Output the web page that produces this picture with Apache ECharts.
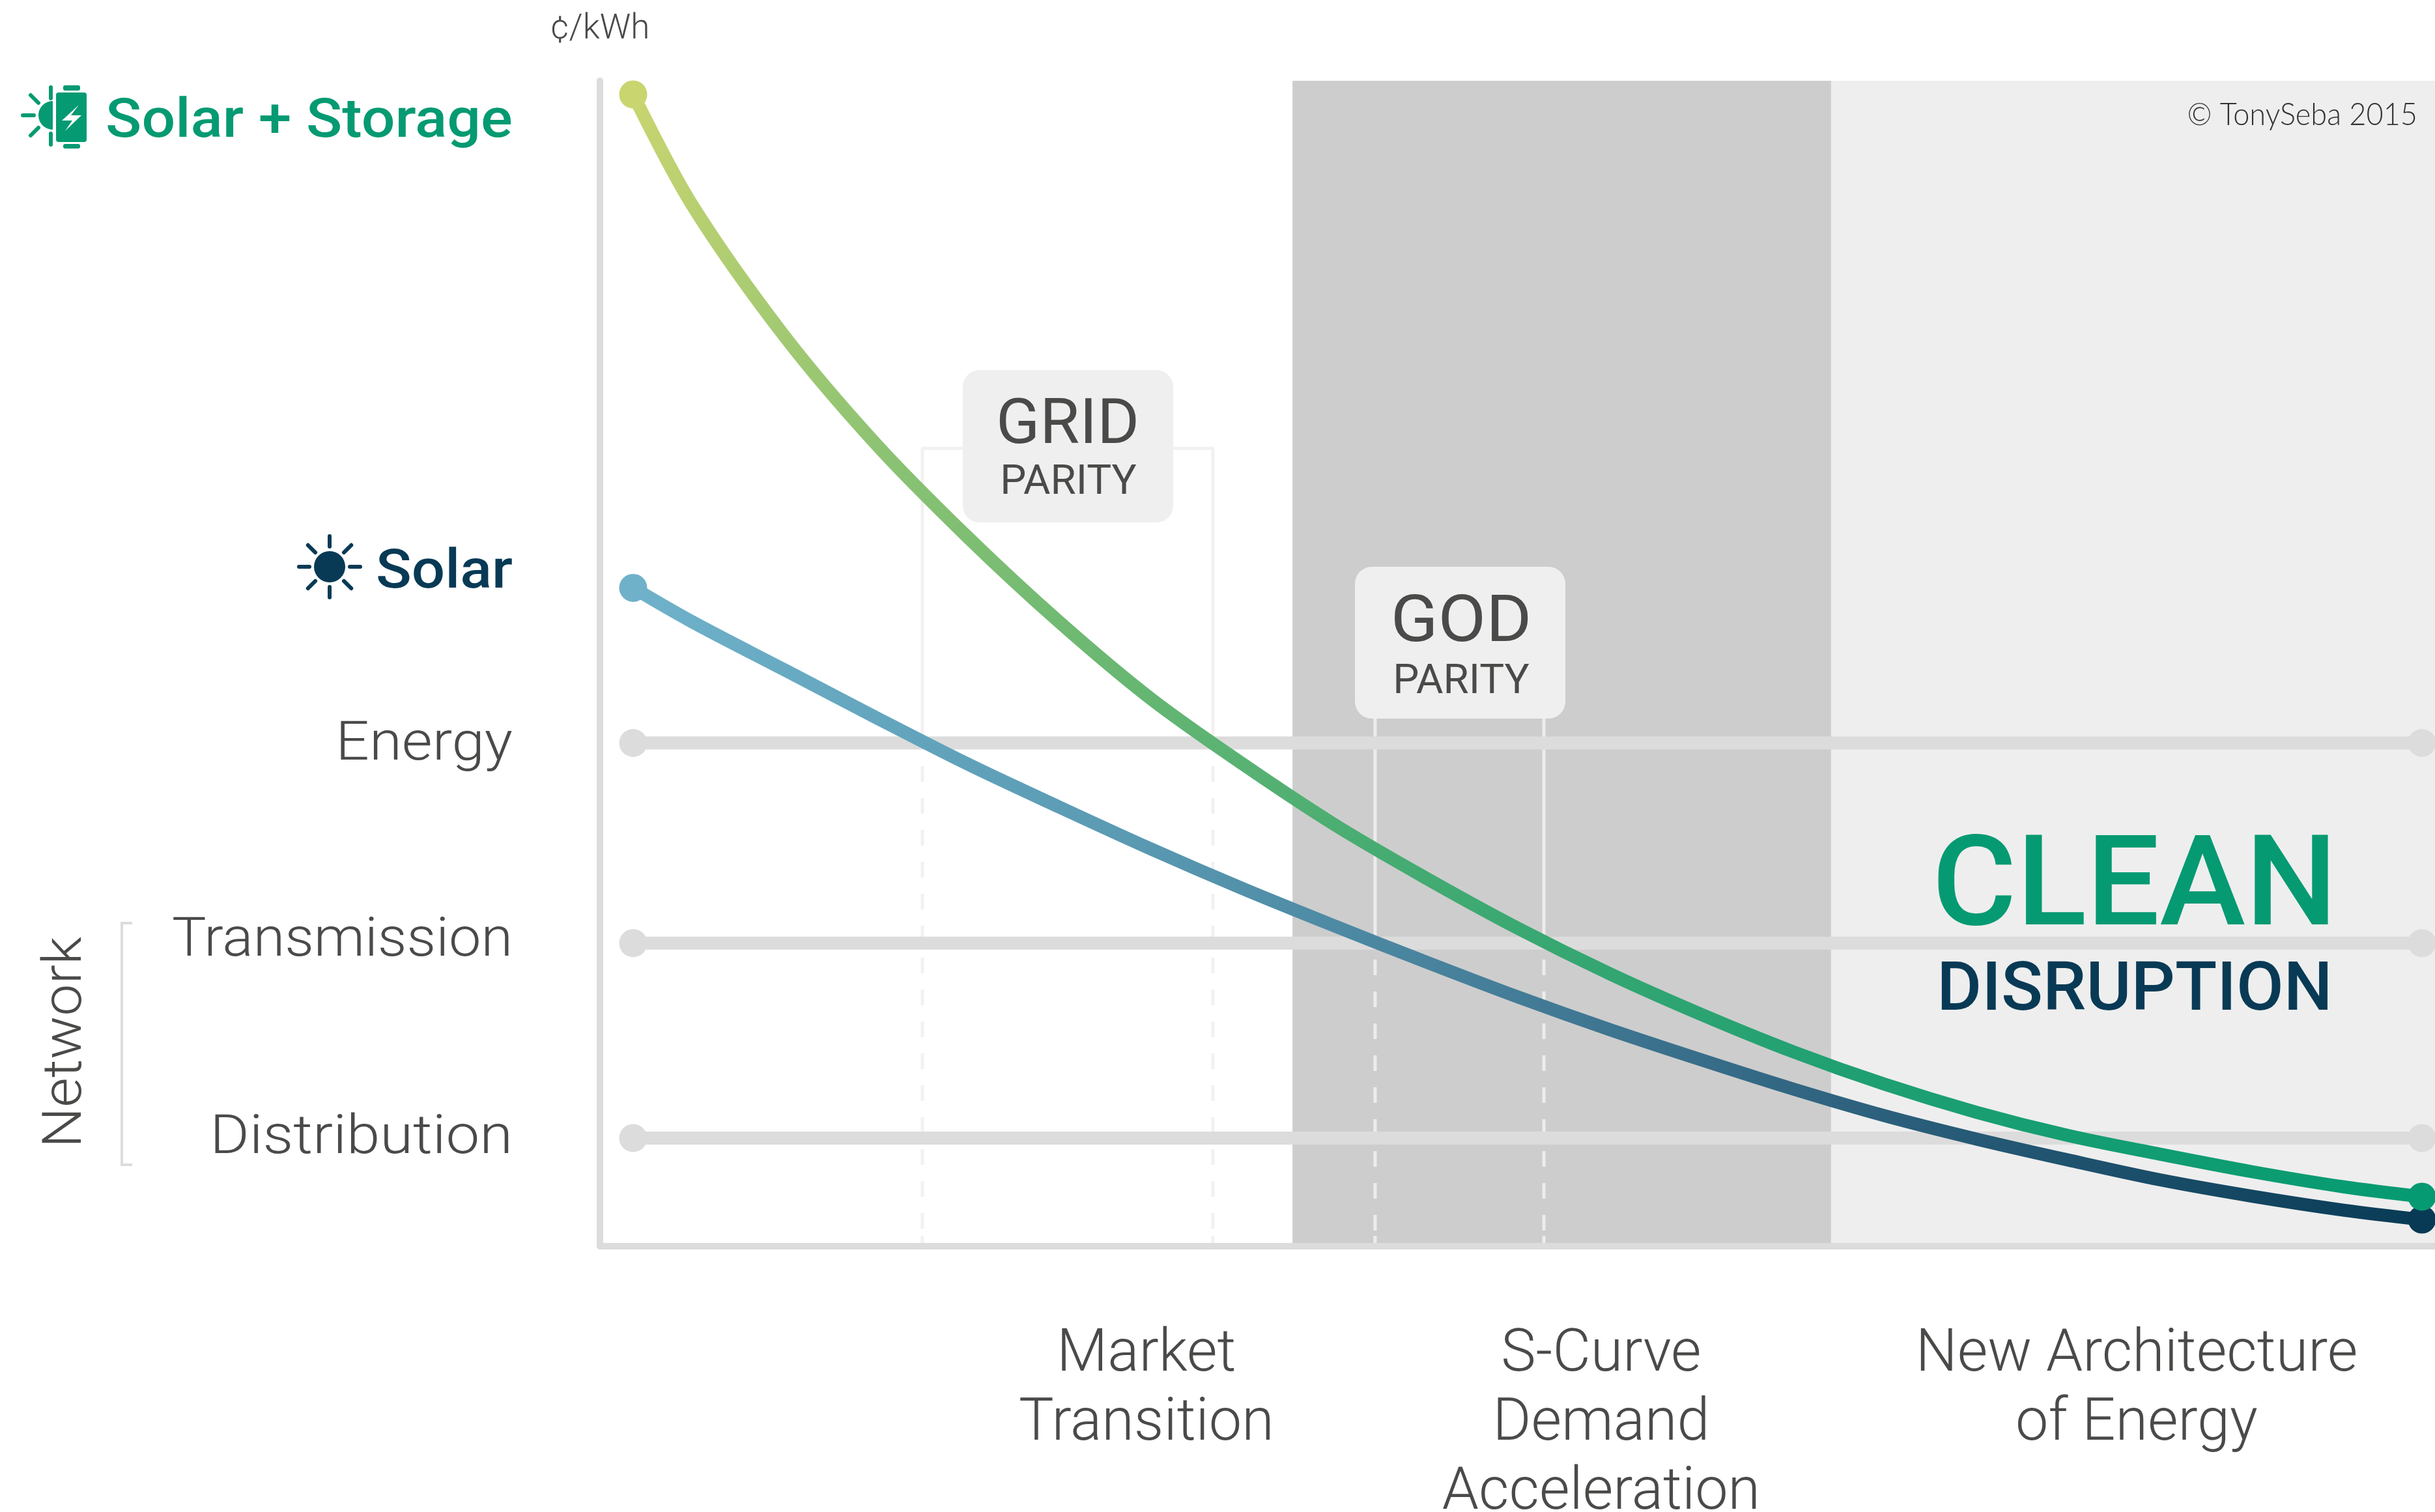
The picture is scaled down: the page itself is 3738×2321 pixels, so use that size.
<!DOCTYPE html>
<html>
<head>
<meta charset="utf-8">
<title>Clean Disruption</title>
<script src="https://cdn.jsdelivr.net/npm/echarts@6/dist/echarts.min.js"></script>
<style>
html, body { margin: 0; padding: 0; background: #fff; }
#chart { width: 3738px; height: 2321px; }
</style>
</head>
<body>
<div id="chart"></div>
<script>
// values, x = time (0-100), y = cost (0-100)
var curveX = [1.81, 5, 10, 15, 20, 25, 30, 35, 40, 45, 50, 55, 60, 65, 70, 75, 80, 85, 90, 95, 99.29];
var storageCost = [98.83, 89.4, 78.2, 68.9, 60.9, 53.6, 47.0, 41.4, 36.2, 31.6, 27.3, 23.4, 19.9, 16.7, 13.9, 11.5, 9.5, 7.9, 6.4, 5.1, 4.25];
var solarCost = [56.49, 53.6, 49.5, 45.4, 41.4, 37.7, 34.1, 30.7, 27.5, 24.4, 21.4, 18.6, 16.0, 13.5, 11.2, 9.2, 7.4, 5.7, 4.3, 3.1, 2.29];
var levelNames = ['Energy', 'Transmission', 'Distribution'];
var levelValues = [43.18, 26.01, 9.28];
var levelStart = 1.81, levelEnd = 99.29;
var bandEdges = [37.74, 67.09, 100];
var gridParityX = [17.57, 33.4], gridParityTop = 68.46, gridDashFrom = 41.2;
var godParityX = [42.24, 51.44], godParityTop = 45.3, godDashFrom = 24.6;
var phaseValues = [29.78, 54.56, 83.74];
var phaseLabels = ['Market\nTransition', 'S-Curve\nDemand\nAcceleration', 'New Architecture\nof Energy'];

var INK = '#4a4a49', GREEN = '#059a72', NAVY = '#083a55', RULE = '#dcdcdc';
var chart = echarts.init(document.getElementById('chart'));

function txt(text, x, y, size, color, opt) {
    opt = opt || {};
    return {
        type: 'text', x: opt.rot ? x + size * 0.11 : x, y: opt.rot ? y : y + size * 0.11, z: 100,
        scaleX: opt.sx || 1,
        rotation: opt.rot || 0,
        style: {
            text: text, fill: color,
            fontSize: size, fontFamily: opt.font || 'Roboto', fontWeight: opt.weight || 300,
            align: opt.align || 'right', verticalAlign: 'middle'
        }
    };
}
function ray(x1, y1, x2, y2, color, w) {
    return {
        type: 'line', z: 100,
        shape: { x1: x1, y1: y1, x2: x2, y2: y2 },
        style: { stroke: color, lineWidth: w, lineCap: 'round' }
    };
}
function sunIcon(cx, cy) {
    var out = [{ type: 'circle', z: 100, shape: { cx: cx, cy: cy, r: 24 }, style: { fill: NAVY } }];
    for (var i = 0; i < 8; i++) {
        var a = i * Math.PI / 4;
        out.push(ray(cx + 31 * Math.cos(a), cy + 31 * Math.sin(a), cx + 47 * Math.cos(a), cy + 47 * Math.sin(a), NAVY, 6));
    }
    return out;
}
function storageIcon() {
    return [
        { type: 'sector', z: 100, shape: { cx: 81, cy: 177, r: 22, startAngle: Math.PI / 2, endAngle: Math.PI * 1.5 }, style: { fill: GREEN } },
        ray(35, 177, 52, 177, GREEN, 6), ray(78, 134, 78, 151, GREEN, 6), ray(78, 205, 78, 222, GREEN, 6),
        ray(47, 146, 59, 158, GREEN, 6), ray(47, 208, 59, 196, GREEN, 6),
        { type: 'rect', z: 100, shape: { x: 86, y: 142, width: 47, height: 76, r: 4 }, style: { fill: GREEN } },
        { type: 'rect', z: 100, shape: { x: 97, y: 131, width: 26, height: 8, r: 3 }, style: { fill: GREEN } },
        { type: 'rect', z: 100, shape: { x: 97, y: 221, width: 26, height: 7, r: 3 }, style: { fill: GREEN } },
        { type: 'polygon', z: 100, shape: { points: [[121, 161], [95, 185], [111, 185], [100, 201], [125, 177], [109, 177]] }, style: { fill: '#fff' } }
    ];
}
function badge(x, y, w, h) {
    return { type: 'rect', z: 99, shape: { x: x, y: y, width: w, height: h, r: 26 }, style: { fill: '#efefef' } };
}

var graphics = [].concat(
    storageIcon(),
    sunIcon(506, 870),
    [
        txt('Solar + Storage', 787, 180, 83, GREEN, { weight: 500, sx: 1.1 }),
        txt('Solar', 787, 872, 83, NAVY, { weight: 500, sx: 1.09 }),
        txt(levelNames[0], 787, 1136, 84, INK, { sx: 1.08 }),
        txt(levelNames[1], 787, 1437, 84, INK, { sx: 1.05 }),
        txt(levelNames[2], 787, 1740, 84, INK, { sx: 1.1 }),
        txt('Network', 94, 1600, 84, INK, { align: 'center', rot: Math.PI / 2, sx: 1.046 }),
        { type: 'polyline', z: 100, shape: { points: [[203, 1417], [187, 1417], [187, 1788], [203, 1788]] }, style: { stroke: RULE, lineWidth: 4, fill: null } },
        badge(1478, 568, 323, 234),
        txt('GRID', 1639, 645, 97, INK, { align: 'center', weight: 400, sx: 1.02 }),
        txt('PARITY', 1640, 735, 63, INK, { align: 'center', weight: 400, sx: 1.01 }),
        badge(2080, 870, 323, 233),
        txt('GOD', 2243, 948, 100, INK, { align: 'center', weight: 400, sx: 1.07 }),
        txt('PARITY', 2243, 1041, 63, INK, { align: 'center', weight: 400, sx: 1.01 }),
        txt('CLEAN', 3277, 1350, 193, GREEN, { align: 'center', weight: 500, sx: 1.03 }),
        txt('DISRUPTION', 3277, 1513, 103, NAVY, { align: 'center', weight: 500, sx: 1.025 }),
        txt('© TonySeba 2015', 3711, 171, 48, '#333', { font: 'Lato', weight: 300, sx: 0.94 })
    ]
);

var series = [];
// shaded phases
series.push({
    type: 'line', data: [], z: 1, silent: true,
    markArea: {
        silent: true,
        data: [
            [{ xAxis: bandEdges[0], yAxis: 0, itemStyle: { color: '#cdcdcd', opacity: 1 } }, { xAxis: bandEdges[1], yAxis: 100 }],
            [{ xAxis: bandEdges[1], yAxis: 0, itemStyle: { color: '#eeeeee', opacity: 1 } }, { xAxis: bandEdges[2], yAxis: 100 }]
        ]
    }
});
// parity brackets, solid above and dashed below the level lines
function guide(points, color, dashed) {
    return {
        type: 'line', z: 2, silent: true, symbol: 'none', data: points,
        lineStyle: { color: color, width: 5, type: dashed ? [24, 25] : 'solid' }
    };
}
series.push(guide([[gridParityX[0], levelValues[0]], [gridParityX[0], gridParityTop], [gridParityX[1], gridParityTop], [gridParityX[1], levelValues[0]]], '#f1f1f1'));
[gridParityX[0], gridParityX[1]].forEach(function (x) {
    series.push(guide([[x, gridDashFrom], [x, 0]], '#f1f1f1', true));
    series.push(guide([[x, 0.9], [x, 0]], '#f1f1f1'));
});
[godParityX[0], godParityX[1]].forEach(function (x) {
    series.push(guide([[x, godParityTop], [x, levelValues[1]]], '#ececec'));
    series.push(guide([[x, godDashFrom], [x, 0]], '#ececec', true));
    series.push(guide([[x, 0.9], [x, 0]], '#ececec'));
});
// cost levels
levelNames.forEach(function (name, i) {
    series.push({
        name: name, type: 'line', z: 3, silent: true, clip: false,
        symbol: 'circle', symbolSize: 43, showAllSymbol: true,
        data: [[levelStart, levelValues[i]], [levelEnd, levelValues[i]]],
        itemStyle: { color: RULE },
        lineStyle: { color: RULE, width: 20 }
    });
});
// cost curves with end dots
function curve(name, values, stops, startColor, endColor) {
    var data = curveX.map(function (x, i) { return [x, values[i]]; });
    series.push({
        name: name, type: 'line', z: 6, clip: false, smooth: 0.33, symbol: 'none', data: data,
        lineStyle: {
            width: 20,
            color: {
                type: 'linear', x: 0, y: 0, x2: 1, y2: 1,
                colorStops: stops.map(function (s) { return { offset: s[0], color: s[1] }; })
            }
        }
    });
    series.push({
        name: name + ' ends', type: 'scatter', z: 6, clip: false, symbolSize: 43,
        data: [
            { value: data[0], itemStyle: { color: startColor, opacity: 1 } },
            { value: data[data.length - 1], itemStyle: { color: endColor, opacity: 1 } }
        ]
    });
}
curve('Solar', solarCost, [[0, '#6fb2ca'], [0.29, '#5a9ab3'], [0.526, '#427a95'], [0.686, '#2f637f'], [1, NAVY]], '#6fb1c9', NAVY);
curve('Solar + Storage', storageCost, [[0, '#cad570'], [0.2, '#8ac273'], [0.49, '#47ac72'], [0.73, '#20a072'], [1, GREEN]], '#c9d56f', GREEN);

chart.setOption({
    animation: false,
    backgroundColor: '#fff',
    grid: { left: 921, right: 0, top: 124, bottom: 408, outerBoundsMode: 'none' },
    xAxis: {
        type: 'value', min: 0, max: 100, z: 5,
        splitLine: { show: false },
        axisTick: { show: false },
        axisLine: { show: true, onZero: false, lineStyle: { color: RULE, width: 10 } },
        axisLabel: {
            show: true,
            customValues: phaseValues,
            margin: 115,
            verticalAlign: 'top',
            color: INK, fontFamily: 'Roboto', fontWeight: 300, fontSize: 90, lineHeight: 106,
            formatter: function (v) { return phaseLabels[phaseValues.indexOf(v)]; }
        }
    },
    yAxis: {
        type: 'value', min: 0, max: 100, z: 5,
        name: '¢/kWh', nameLocation: 'end', nameGap: 78,
        nameTextStyle: { color: INK, fontFamily: 'Roboto', fontWeight: 300, fontSize: 53, align: 'center', verticalAlign: 'middle' },
        splitLine: { show: false },
        axisTick: { show: false },
        axisLabel: { show: false },
        axisLine: { show: true, onZero: false, lineStyle: { color: RULE, width: 10 } }
    },
    graphic: graphics,
    series: series
});
</script>
</body>
</html>
